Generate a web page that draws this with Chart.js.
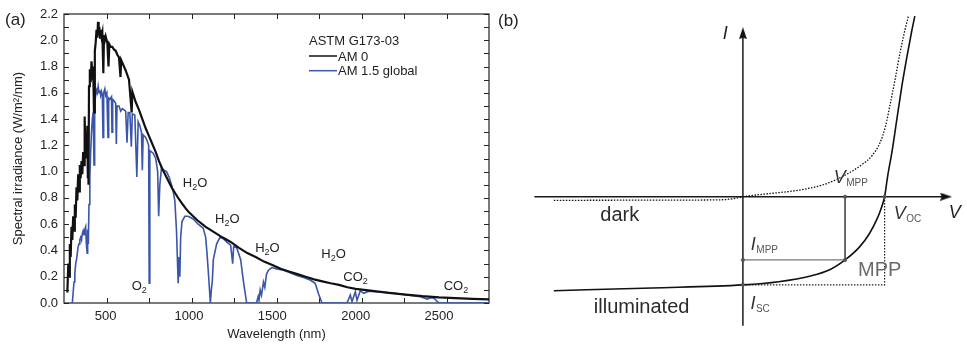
<!DOCTYPE html>
<html>
<head>
<meta charset="utf-8">
<script src="https://cdn.jsdelivr.net/npm/chart.js@4.4.0/dist/chart.umd.min.js"></script>
<style>
  html, body { margin: 0; padding: 0; background: #fff; }
  #wrap { position: relative; width: 967px; height: 344px; overflow: hidden; }
  #boxA { position: absolute; left: 0; top: 0; width: 490px; height: 344px; }
  #boxB { position: absolute; left: 490px; top: 0; width: 477px; height: 344px; }
</style>
</head>
<body>
<div id="wrap">
  <div id="boxA"><canvas id="spectrum"></canvas></div>
  <div id="boxB"><canvas id="ivcurve"></canvas></div>
</div>
<script>
/* ========== PANEL (a) DATA ========== */
const am0Wavelength = [270, 276, 280, 285, 290, 295, 300, 305, 310, 315, 320, 325, 330, 335, 340, 345, 350, 355, 360, 365,
  370, 374, 378, 382, 386, 390, 393, 395, 397, 400, 405, 410, 415, 420, 425, 430, 435, 440, 445, 450,
  454, 458, 462, 466, 470, 475, 480, 486, 490, 495, 500, 510, 517, 522, 530, 540, 550, 560, 570, 580,
  589, 593, 600, 620, 640, 656, 660, 680, 700, 720, 740, 760, 780, 800, 820, 840, 860, 880, 900, 920,
  940, 960, 980, 1000, 1050, 1100, 1150, 1200, 1250, 1300, 1350, 1400, 1450, 1500, 1550, 1600, 1650, 1700, 1750, 1800,
  1850, 1900, 1950, 2000, 2100, 2200, 2300, 2400, 2500, 2600, 2700, 2800];
const am0Irradiance = [0.08, 0.30, 0.20, 0.45, 0.35, 0.58, 0.48, 0.66, 0.55, 0.75, 0.65, 0.88, 0.78, 0.98, 0.85, 1.05, 0.95, 1.08, 0.98, 1.15,
  1.05, 1.42, 1.15, 1.22, 1.10, 1.35, 0.95, 1.30, 0.90, 1.65, 1.78, 1.68, 1.84, 1.76, 1.80, 1.45, 1.92, 1.98, 2.08, 2.02,
  2.14, 2.04, 2.10, 2.02, 2.08, 2.03, 2.06, 1.75, 2.04, 2.00, 2.03, 1.98, 1.80, 1.97, 1.95, 1.95, 1.93, 1.92, 1.89, 1.87,
  1.72, 1.85, 1.83, 1.77, 1.70, 1.45, 1.61, 1.53, 1.47, 1.40, 1.33, 1.27, 1.21, 1.15, 1.08, 1.02, 0.97, 0.92, 0.87, 0.83,
  0.79, 0.755, 0.72, 0.69, 0.63, 0.58, 0.54, 0.50, 0.465, 0.42, 0.38, 0.35, 0.315, 0.29, 0.26, 0.24, 0.22, 0.20, 0.18, 0.165,
  0.15, 0.138, 0.12, 0.108, 0.092, 0.077, 0.064, 0.052, 0.043, 0.037, 0.032, 0.028];

const am15Wavelength = [290, 300, 305, 310, 315, 320, 325, 330, 335, 340, 345, 350, 355, 360, 365, 370, 375, 380, 384, 389,
  392, 396, 400, 405, 410, 415, 420, 425, 430, 434, 440, 445, 450, 455, 460, 465, 470, 475, 480, 484,
  488, 495, 500, 507, 514, 518, 525, 535, 538, 542, 550, 560, 564, 568, 580, 590, 600, 610, 620, 628,
  635, 645, 654, 660, 675, 687, 695, 705, 715, 720, 725, 740, 750, 758, 761, 765, 785, 800, 812, 818,
  825, 835, 850, 865, 880, 895, 905, 915, 925, 935, 940, 945, 950, 958, 975, 995, 1025, 1055, 1085, 1100,
  1108, 1118, 1128, 1134, 1140, 1146, 1166, 1186, 1206, 1230, 1250, 1262, 1268, 1286, 1300, 1310, 1326, 1346, 1405, 1415,
  1420, 1427, 1435, 1447, 1455, 1465, 1477, 1497, 1527, 1567, 1607, 1647, 1687, 1727, 1757, 1777, 1798, 1948, 1968, 1978,
  1998, 2008, 2028, 2048, 2078, 2149, 2229, 2309, 2389, 2430, 2450, 2470, 2490, 2500, 2800];
const am15Irradiance = [0, 0, 0.08, 0.16, 0.22, 0.30, 0.33, 0.38, 0.43, 0.45, 0.48, 0.50, 0.48, 0.53, 0.55, 0.52, 0.56, 0.58, 0.45, 0.38,
  0.56, 0.45, 0.75, 0.95, 1.15, 1.30, 1.40, 1.45, 1.05, 1.52, 1.58, 1.62, 1.60, 1.65, 1.60, 1.62, 1.58, 1.61, 1.58, 1.26,
  1.60, 1.63, 1.58, 1.60, 1.26, 1.56, 1.55, 1.57, 1.30, 1.55, 1.54, 1.52, 1.21, 1.50, 1.50, 1.46, 1.48, 1.47, 1.46, 1.22,
  1.45, 1.45, 1.19, 1.44, 1.43, 0.96, 1.38, 1.35, 1.30, 1.01, 1.28, 1.26, 1.23, 1.20, 0.15, 1.16, 1.14, 1.10, 1.00, 0.66,
  0.90, 1.03, 1.01, 1.00, 0.96, 0.90, 0.85, 0.78, 0.55, 0.15, 0.35, 0.20, 0.50, 0.62, 0.66, 0.66, 0.64, 0.60, 0.57, 0.50,
  0.38, 0.20, 0.0, 0.10, 0.17, 0.33, 0.45, 0.50, 0.49, 0.46, 0.44, 0.30, 0.43, 0.42, 0.37, 0.33, 0.17, 0, 0, 0.05,
  0.02, 0.10, 0.06, 0.16, 0.12, 0.22, 0.25, 0.27, 0.26, 0.25, 0.23, 0.21, 0.195, 0.175, 0.15, 0.07, 0, 0, 0.06, 0.01,
  0.086, 0.02, 0.094, 0.074, 0.09, 0.084, 0.074, 0.061, 0.048, 0.03, 0.04, 0.036, 0.01, 0, 0];

const xTickLabels = [500, 1000, 1500, 2000, 2500];
const bandNames = ["H2O", "H2O", "H2O", "H2O", "CO2", "CO2", "O2"];
const bandWavelength = [963, 1156, 1397, 1794, 1926, 2528, 656];
const bandLevel = [0.88, 0.61, 0.39, 0.34, 0.165, 0.10, 0.10];

/* ========== PANEL (b) DATA ========== */
const darkV = [-1.334, -0.640, -0.160, -0.060, 0, 0.183, 0.389, 0.561, 0.664, 0.753, 0.842, 0.911, 0.966, 1.007, 1.041, 1.076, 1.110, 1.144, 1.168];
const darkI = [-0.041, -0.039, -0.035, -0.020, 0, 0.035, 0.073, 0.133, 0.198, 0.274, 0.367, 0.465, 0.607, 0.803, 1.065, 1.349, 1.644, 1.896, 2.049];
const lightV = [-1.334, -0.640, 0, 0.252, 0.478, 0.616, 0.721, 0.822, 0.890, 0.949, 0.973, 1.0, 1.021, 1.053, 1.087, 1.121, 1.156, 1.190, 1.213];
const lightI = [-1.066, -1.035, -1.0, -0.964, -0.899, -0.826, -0.717, -0.572, -0.426, -0.242, -0.144, 0, 0.229, 0.521, 0.885, 1.249, 1.576, 1.869, 2.049];
const vMpp = 0.721, iMpp = -0.717, vOc = 1.0, iSc = -1.0;
const vAxisEnds = [-1.471, 1.434];
const iAxisEnds = [-1.463, 1.856];

const FONT = '"Liberation Sans", Arial, sans-serif';
const INK = "#222";

/* ========== HELPERS ========== */
function pairs(xs, ys) {
  return xs.map((v, i) => ({ x: v, y: ys[i] }));
}

// draws text where digits become subscripts (H2O -> H₂O)
function drawFormula(ctx, text, x, y, size) {
  let cx = x;
  for (const ch of text) {
    const isDigit = /[0-9]/.test(ch);
    ctx.font = (isDigit ? Math.round(size * 0.7) : size) + "px " + FONT;
    ctx.fillText(ch, cx, isDigit ? y + 3 : y);
    cx += ctx.measureText(ch).width;
  }
}

// italic symbol with small upright subscript (V_MPP etc.)
function drawSymbol(ctx, main, sub, x, y, size, color, subColor) {
  ctx.font = "italic " + size + "px " + FONT;
  ctx.fillStyle = color;
  ctx.fillText(main, x, y);
  const w = ctx.measureText(main).width;
  if (sub) {
    ctx.font = Math.round(size * 0.58) + "px " + FONT;
    ctx.fillStyle = subColor || color;
    ctx.fillText(sub, x + w + 0.5, y + 3);
  }
}

/* ========== PANEL (a): SPECTRUM ========== */
const spectrumDecor = {
  id: "spectrumDecor",
  beforeDatasetsDraw(chart) {
    const { ctx, chartArea: a, scales: { x, y } } = chart;
    ctx.save();
    ctx.strokeStyle = INK;
    ctx.lineWidth = 1.2;
    ctx.strokeRect(a.left, a.top, a.right - a.left, a.bottom - a.top);
    ctx.beginPath();
    x.ticks.forEach((t) => {
      if (t.value <= x.min || t.value >= x.max) return;
      const px = Math.round(x.getPixelForValue(t.value)) + 0.5;
      ctx.moveTo(px, a.bottom); ctx.lineTo(px, a.bottom - 5);
      ctx.moveTo(px, a.top); ctx.lineTo(px, a.top + 5);
    });
    y.ticks.forEach((t) => {
      const py = Math.round(y.getPixelForValue(t.value)) + 0.5;
      ctx.moveTo(a.left, py); ctx.lineTo(a.left + 5, py);
      ctx.moveTo(a.right, py); ctx.lineTo(a.right - 5, py);
    });
    ctx.lineWidth = 1;
    ctx.stroke();
    ctx.restore();
  },
  afterDraw(chart) {
    const { ctx, chartArea: a, scales: { x, y } } = chart;
    ctx.save();
    ctx.fillStyle = INK;
    ctx.textBaseline = "alphabetic";

    // panel tag
    ctx.font = "17px " + FONT;
    ctx.fillText("(a)", 5, 25);

    // wavelength tick labels
    ctx.font = "13px " + FONT;
    ctx.textAlign = "center";
    xTickLabels.forEach((v) => {
      ctx.fillText(String(v), x.getPixelForValue(v), a.bottom + 17);
    });
    ctx.textAlign = "left";

    // absorption band labels
    bandNames.forEach((name, i) => {
      drawFormula(ctx, name, x.getPixelForValue(bandWavelength[i]), y.getPixelForValue(bandLevel[i]), 13);
    });

    // legend
    const lx = a.left + 245;
    ctx.font = "13px " + FONT;
    ctx.fillStyle = INK;
    ctx.fillText("ASTM G173-03", lx, 44.5);
    chart.data.datasets.forEach((ds, i) => {
      const ly = 56 + i * 14.7;
      ctx.strokeStyle = ds.borderColor;
      ctx.lineWidth = 1.5;
      ctx.beginPath();
      ctx.moveTo(lx, ly); ctx.lineTo(lx + 28, ly);
      ctx.stroke();
      ctx.fillStyle = INK;
      ctx.fillText(ds.label, lx + 29, ly + 4.6);
    });
    ctx.restore();
  }
};

new Chart(document.getElementById("spectrum"), {
  type: "line",
  data: {
    datasets: [
      {
        label: "AM 0",
        data: pairs(am0Wavelength, am0Irradiance),
        borderColor: "#111111",
        borderWidth: 2.2,
        pointRadius: 0,
        tension: 0
      },
      {
        label: "AM 1.5 global",
        data: pairs(am15Wavelength, am15Irradiance),
        borderColor: "#3a55aa",
        borderWidth: 1.6,
        pointRadius: 0,
        tension: 0
      }
    ]
  },
  options: {
    responsive: true,
    maintainAspectRatio: false,
    animation: false,
    events: [],
    layout: { padding: { left: 0, right: 1, top: 14, bottom: 0 } },
    plugins: { legend: { display: false }, tooltip: { enabled: false } },
    scales: {
      x: {
        type: "linear",
        min: 250,
        max: 2800,
        grid: { display: false, drawTicks: false },
        border: { display: false },
        afterFit: (s) => { s.height = 41; },
        ticks: {
          display: false,
          stepSize: 250,
          includeBounds: false,
          autoSkip: false,
          maxRotation: 0
        },
        title: {
          display: true,
          text: "Wavelength (nm)",
          color: INK,
          font: { family: FONT, size: 13 },
          padding: { top: 0, bottom: 2 }
        }
      },
      y: {
        min: 0,
        max: 2.2,
        grid: { display: false, drawTicks: false },
        border: { display: false },
        afterFit: (s) => { s.width = 64; },
        ticks: {
          stepSize: 0.1,
          autoSkip: false,
          padding: 6,
          color: INK,
          font: { family: FONT, size: 13 },
          callback: (v, i) => (i % 2 === 0 ? v.toFixed(1) : "")
        },
        title: {
          display: true,
          text: "Spectral irradiance (W/m²/nm)",
          color: INK,
          font: { family: FONT, size: 13 },
          padding: { top: 11, bottom: 0 }
        }
      }
    }
  },
  plugins: [spectrumDecor]
});

/* ========== PANEL (b): I-V SKETCH ========== */
function makeArrowHead() {
  const c = document.createElement("canvas");
  c.width = 8;
  c.height = 12;
  const g = c.getContext("2d");
  g.fillStyle = "#111";
  g.beginPath();
  g.moveTo(4, 0);
  g.lineTo(8, 12);
  g.lineTo(4, 10.5);
  g.lineTo(0, 12);
  g.closePath();
  g.fill();
  return c;
}
const arrowHead = makeArrowHead();

const ivLabels = {
  id: "ivLabels",
  afterDraw(chart) {
    const { ctx, scales: { x, y } } = chart;
    const px = (v) => x.getPixelForValue(v);
    const py = (v) => y.getPixelForValue(v);
    ctx.save();
    ctx.textBaseline = "alphabetic";

    ctx.font = "17px " + FONT;
    ctx.fillStyle = INK;
    ctx.fillText("(b)", 8, 26);

    drawSymbol(ctx, "I", "", px(-0.143), py(1.795), 18, INK);
    drawSymbol(ctx, "V", "", px(1.453), py(-0.243), 18, INK);
    drawSymbol(ctx, "V", "MPP", px(0.641), py(0.157), 18, "#333", "#555");
    drawSymbol(ctx, "V", "OC", px(1.064), py(-0.251), 18, "#333", "#555");
    drawSymbol(ctx, "I", "MPP", px(0.056), py(-0.607), 18, "#333", "#555");
    drawSymbol(ctx, "I", "SC", px(0.053), py(-1.270), 18, "#333", "#555");

    ctx.font = "20px " + FONT;
    ctx.fillStyle = "#6b6b6b";
    ctx.fillText("MPP", px(0.813), py(-0.898));
    ctx.fillStyle = "#2b2b2b";
    ctx.fillText("dark", px(-1.006), py(-0.273));
    ctx.fillText("illuminated", px(-1.052), py(-1.317));
    ctx.restore();
  }
};

new Chart(document.getElementById("ivcurve"), {
  type: "scatter",
  data: {
    datasets: [
      {
        // marked points
        data: [
          { x: vMpp, y: 0 }, { x: vOc, y: 0 }, { x: 0, y: iMpp }, { x: 0, y: iSc }, { x: vMpp, y: iMpp }
        ],
        showLine: false,
        pointRadius: 2,
        pointBackgroundColor: "#555",
        pointBorderWidth: 0
      },
      {
        label: "illuminated",
        data: pairs(lightV, lightI),
        showLine: true,
        borderColor: "#111",
        borderWidth: 1.6,
        pointRadius: 0,
        cubicInterpolationMode: "monotone"
      },
      {
        label: "dark",
        data: pairs(darkV, darkI),
        showLine: true,
        borderColor: "#111",
        borderWidth: 1.3,
        borderDash: [1.5, 1.5],
        pointRadius: 0,
        cubicInterpolationMode: "monotone"
      },
      {
        // MPP rectangle
        data: [{ x: vMpp, y: 0 }, { x: vMpp, y: iMpp }, { x: 0, y: iMpp }],
        showLine: true,
        borderColor: "#555",
        borderWidth: 1,
        pointRadius: 0
      },
      {
        // Isc-Voc rectangle
        data: [{ x: 0, y: iSc }, { x: vOc, y: iSc }, { x: vOc, y: 0 }],
        showLine: true,
        borderColor: "#222",
        borderWidth: 1.2,
        borderDash: [1.5, 1.5],
        pointRadius: 0
      },
      {
        // V axis
        data: [{ x: vAxisEnds[0], y: 0 }, { x: vAxisEnds[1], y: 0 }],
        showLine: true,
        borderColor: "#1a1a1a",
        borderWidth: 1.5,
        pointStyle: arrowHead,
        pointRadius: [0, 5],
        pointRotation: 90
      },
      {
        // I axis
        data: [{ x: 0, y: iAxisEnds[0] }, { x: 0, y: iAxisEnds[1] }],
        showLine: true,
        borderColor: "#1a1a1a",
        borderWidth: 1.5,
        pointStyle: arrowHead,
        pointRadius: [0, 5],
        pointRotation: 0
      }
    ]
  },
  options: {
    responsive: true,
    maintainAspectRatio: false,
    animation: false,
    events: [],
    layout: { padding: 0 },
    plugins: { legend: { display: false }, tooltip: { enabled: false } },
    scales: {
      x: { type: "linear", display: false, min: -1.7385, max: 1.5354 },
      y: { type: "linear", display: false, min: -1.5972, max: 2.1583 }
    }
  },
  plugins: [ivLabels]
});
</script>
</body>
</html>
